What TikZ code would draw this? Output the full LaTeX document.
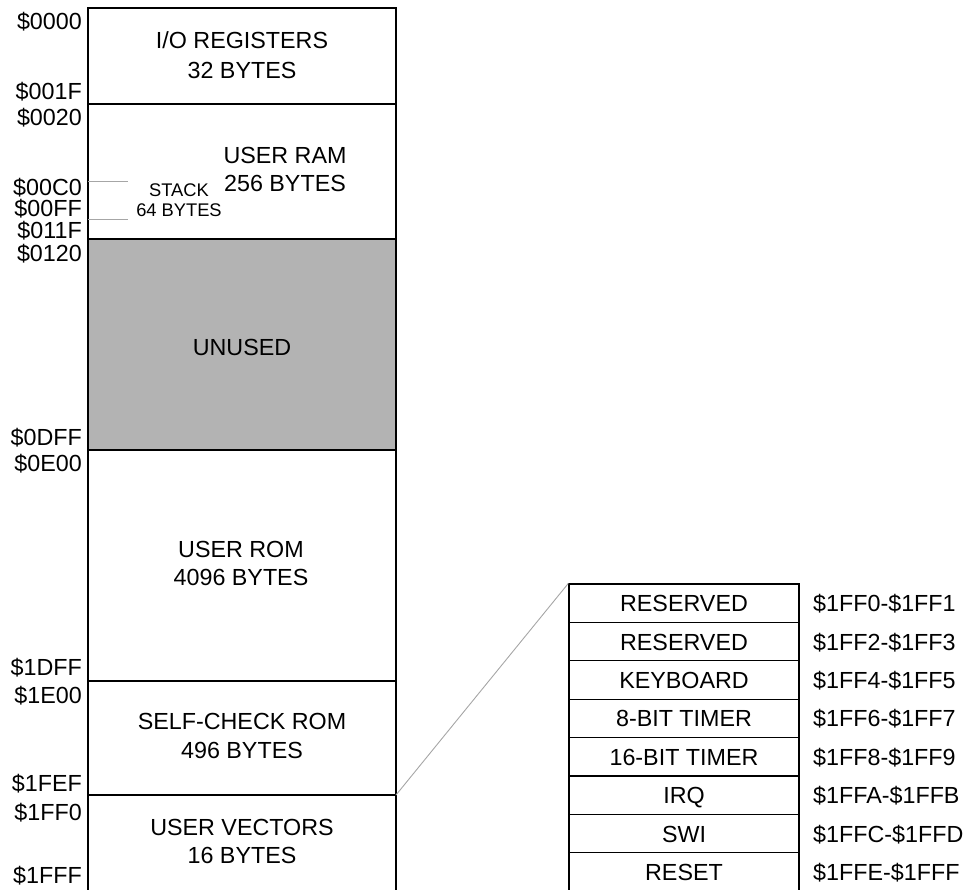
\documentclass[tikz,border=0pt]{standalone}
\usepackage{fontspec}
\setmainfont{Liberation Sans}
\begin{document}
\begin{tikzpicture}[x=1pt,y=-1pt,
  frame/.style={draw=black,line width=1.3pt},
  thin/.style={draw=black!35,line width=0.9pt},
  txt/.style={inner sep=0pt,text height=16.8pt,text depth=0pt,font=\fontsize{23.3}{27}\selectfont},
  small/.style={inner sep=0pt,text height=13.2pt,text depth=0pt,font=\fontsize{18.3}{21}\selectfont},
  addr/.style={txt,anchor=east},
  vrow/.style={txt,draw=black,line width=1.3pt,minimum width=230pt,minimum height=38.4pt}]
\useasboundingbox (0,0) rectangle (969,890);
\clip (0,0) rectangle (969,890);
\definecolor{unusedgray}{RGB}{179,179,179}
% main column
\fill[unusedgray] (88,239) rectangle (396,450);
\draw[frame] (88,900) -- (88,8) -- (396,8) -- (396,900);
\draw[frame] (88,104) -- (396,104);
\draw[frame] (88,239) -- (396,239);
\draw[frame] (88,450) -- (396,450);
\draw[frame] (88,681) -- (396,681);
\draw[frame] (88,795) -- (396,795);
\coordinate (vecr) at (396,795);
% stack markers
\coordinate (sk1a) at (88,181); \coordinate (sk1b) at (128,181);
\coordinate (sk2a) at (88,219); \coordinate (sk2b) at (128,219);
\draw[thin] (sk1a) -- (sk1b);
\draw[thin] (sk2a) -- (sk2b);
% region texts
\node[txt] (io1) at (242,40) {I/O REGISTERS};
\node[txt] (io2) at (242,70) {32 BYTES};
\node[txt] (ram1) at (285,155) {USER RAM};
\node[txt] (ram2) at (285,183) {256 BYTES};
\node[small] (st1) at (179,190) {STACK};
\node[small] (st2) at (179,210) {64 BYTES};
\node[txt] (unused) at (242,347) {UNUSED};
\node[txt] (rom1) at (241,549) {USER ROM};
\node[txt] (rom2) at (241,577) {4096 BYTES};
\node[txt] (sc1) at (242,721) {SELF-CHECK ROM};
\node[txt] (sc2) at (242,750) {496 BYTES};
\node[txt] (uv1) at (242,827) {USER VECTORS};
\node[txt] (uv2) at (242,855) {16 BYTES};
% addresses
\node[addr] (a1) at (82,21) {\$0000};
\node[addr] (a2) at (82,91) {\$001F};
\node[addr] (a3) at (82,117) {\$0020};
\node[addr] (a4) at (82,187) {\$00C0};
\node[addr] (a5) at (82,208) {\$00FF};
\node[addr] (a6) at (82,230) {\$011F};
\node[addr] (a7) at (82,253) {\$0120};
\node[addr] (a8) at (82,437) {\$0DFF};
\node[addr] (a9) at (82,463) {\$0E00};
\node[addr] (a10) at (82,667) {\$1DFF};
\node[addr] (a11) at (82,695) {\$1E00};
\node[addr] (a12) at (82,783) {\$1FEF};
\node[addr] (a13) at (82,812) {\$1FF0};
\node[addr] (a14) at (82,875) {\$1FFF};
% vector table
\node[vrow] (r1) at (684,603.2) {RESERVED};
\node[vrow] (r2) at (684,641.6) {RESERVED};
\node[vrow] (r3) at (684,680.0) {KEYBOARD};
\node[vrow] (r4) at (684,718.4) {8-BIT TIMER};
\node[vrow] (r5) at (684,756.8) {16-BIT TIMER};
\node[vrow] (r6) at (684,795.2) {IRQ};
\node[vrow] (r7) at (684,833.6) {SWI};
\node[vrow] (r8) at (684,872.0) {RESET};
\node[txt,anchor=west] (v1) at (813,603.2) {\$1FF0-\$1FF1};
\node[txt,anchor=west] (v2) at (813,641.6) {\$1FF2-\$1FF3};
\node[txt,anchor=west] (v3) at (813,680.0) {\$1FF4-\$1FF5};
\node[txt,anchor=west] (v4) at (813,718.4) {\$1FF6-\$1FF7};
\node[txt,anchor=west] (v5) at (813,756.8) {\$1FF8-\$1FF9};
\node[txt,anchor=west] (v6) at (813,795.2) {\$1FFA-\$1FFB};
\node[txt,anchor=west] (v7) at (813,833.6) {\$1FFC-\$1FFD};
\node[txt,anchor=west] (v8) at (813,872.0) {\$1FFE-\$1FFF};
% zoom connector
\draw[thin] (vecr) -- (r1.north west);
\end{tikzpicture}
\end{document}
